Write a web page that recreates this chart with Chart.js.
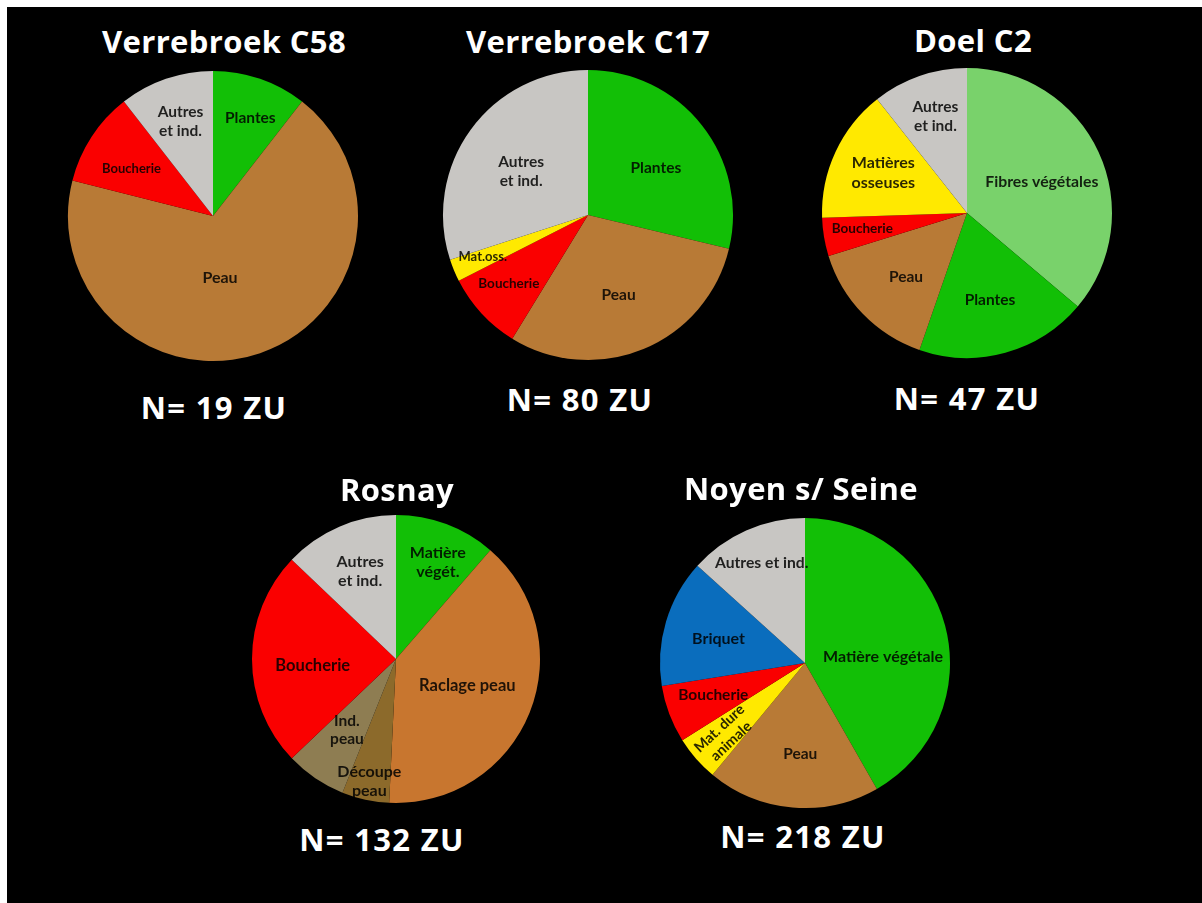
<!DOCTYPE html>
<html>
<head>
<meta charset="utf-8">
<script src="https://cdn.jsdelivr.net/npm/chart.js@4.4.1/dist/chart.umd.min.js"></script>
<style>
  html, body { margin: 0; padding: 0; background: #fff; }
  body { width: 1202px; height: 903px; position: relative; overflow: hidden; font-family: Lato, 'Open Sans', sans-serif; }
  #board { position: absolute; left: 7px; top: 7px; right: 0; bottom: 0; background: #000; }
  .pie { position: absolute; width: 300px; height: 300px; }
  .txt { position: absolute; width: 400px; text-align: center; color: #fff; font-family: 'Open Sans', sans-serif; font-weight: 700; font-size: 31px; line-height: 31px; white-space: nowrap; }
  .title { letter-spacing: 0.4px; }
  .total { letter-spacing: 1.3px; }
</style>
</head>
<body>
<div id="board"></div>

<script>
// ZU counts per site, clockwise from 12 o'clock
const c58Labels = ['Plantes', 'Peau', 'Boucherie', 'Autres\net ind.'];
const c58Counts = [2, 13, 2, 2];

const c17Labels = ['Plantes', 'Peau', 'Boucherie', 'Mat.oss.', 'Autres\net ind.'];
const c17Counts = [23, 24, 7, 2, 24];

const doelLabels = ['Fibres végétales', 'Plantes', 'Peau', 'Boucherie', 'Matières\nosseuses', 'Autres\net ind.'];
const doelCounts = [17, 9, 7, 2, 7, 5];

const rosnayLabels = ['Matière\nvégét.', 'Raclage peau', 'Découpe\npeau', 'Ind.\npeau', 'Boucherie', 'Autres\net ind.'];
const rosnayCounts = [15, 52, 7, 9, 32, 17];

const noyenLabels = ['Matière végétale', 'Peau', 'Mat. dure\nanimale', 'Boucherie', 'Briquet', 'Autres et ind.'];
const noyenCounts = [91, 42, 11, 14, 31, 29];

const siteTitles = ['Verrebroek C58', 'Verrebroek C17', 'Doel C2', 'Rosnay', 'Noyen s/ Seine'];
const siteTotals = ['N= 19 ZU', 'N= 80 ZU', 'N= 47 ZU', 'N= 132 ZU', 'N= 218 ZU'];

// slice colours
const GREEN = '#12BF06', BROWN = '#B87A36', RED = '#FA0000', GREY = '#C8C6C3',
      YELLOW = '#FFE900', LIGHTGREEN = '#79D26B', BLUE = '#0A6DBD';
const c58Colors = [GREEN, BROWN, RED, GREY];
const c17Colors = [GREEN, BROWN, RED, YELLOW, GREY];
const doelColors = [LIGHTGREEN, GREEN, BROWN, RED, YELLOW, GREY];
const rosnayColors = [GREEN, '#C8762F', '#8C6A2B', '#8E7D52', RED, GREY];
const noyenColors = [GREEN, BROWN, YELLOW, RED, BLUE, GREY];

// label placement: [radius fraction, angle shift (deg), font px, rotation (deg)]
const c58Place = [[0.72, 2, 15.5], [0.43, 12.5, 16], [0.65, -3, 13], [0.69, 0, 15.5]];
const c17Place = [[0.57, 3.5, 15.5], [0.59, 1.5, 15.5], [0.72, 2, 13.5], [0.78, 1, 13], [0.55, -3, 15.5]];
const doelPlace = [[0.56, 2, 15.8], [0.62, 0.5, 15.5], [0.61, -2.4, 15.5], [0.73, 1, 13.5], [0.64, 0.7, 16], [0.70, 1, 15.5]];
const rosnayPlace = [[0.73, 3, 16], [0.53, -1, 16.5], [0.87, 0, 16], [0.60, 0.5, 15.5], [0.58, -4.6, 16.5], [0.66, 1, 16]];
const noyenPlace = [[0.54, 10.3, 16], [0.63, -2, 15.5], [0.74, -0.7, 14.5, -43], [0.67, 1.4, 15.5], [0.62, -0.6, 16], [0.75, 0.5, 15.7]];

// pie centre and radius on the board
const pieBoxes = [
  { cx: 213, cy: 216, r: 145 },
  { cx: 588, cy: 215, r: 145 },
  { cx: 967, cy: 213, r: 145 },
  { cx: 396, cy: 659, r: 144 },
  { cx: 805, cy: 663, r: 145 }
];
// title / total text centres
const titlePos = [[224, 42], [588, 42], [973, 41], [397, 490], [801, 489]];
const totalPos = [[214, 408], [580, 400], [967, 399], [382, 840], [803, 837]];

const sliceLabels = {
  id: 'sliceLabels',
  afterDatasetsDraw(chart, args, opts) {
    const ctx = chart.ctx;
    const arcs = chart.getDatasetMeta(0).data;
    arcs.forEach((arc, i) => {
      const p = arc.getProps(['x', 'y', 'startAngle', 'endAngle', 'outerRadius'], true);
      const place = opts.place[i];
      const a = (p.startAngle + p.endAngle) / 2 + place[1] * Math.PI / 180;
      const rr = p.outerRadius * place[0];
      const x = p.x + Math.cos(a) * rr;
      const y = p.y + Math.sin(a) * rr;
      const lines = chart.data.labels[i].split('\n');
      const size = place[2];
      ctx.save();
      ctx.translate(x, y);
      if (place[3]) ctx.rotate(place[3] * Math.PI / 180);
      ctx.font = '700 ' + size + 'px Lato, "Open Sans", sans-serif';
      ctx.fillStyle = 'rgba(0,0,0,0.84)';
      ctx.textAlign = 'center';
      ctx.textBaseline = 'middle';
      const lh = size * 1.2;
      lines.forEach((ln, k) => {
        ctx.fillText(ln, 0, (k - (lines.length - 1) / 2) * lh);
      });
      ctx.restore();
    });
  }
};

const board = document.getElementById('board');

function addText(str, pos, cls) {
  const d = document.createElement('div');
  d.className = 'txt ' + cls;
  d.textContent = str;
  // board is offset by 7px
  d.style.left = (pos[0] - 200 - 7) + 'px';
  d.style.top = (pos[1] - 16 - 7) + 'px';
  board.appendChild(d);
}

function renderPie(idx, labels, counts, colors, place) {
  const box = pieBoxes[idx];
  const wrap = document.createElement('div');
  wrap.className = 'pie';
  wrap.style.left = (box.cx - 150 - 7) + 'px';
  wrap.style.top = (box.cy - 150 - 7) + 'px';
  const cv = document.createElement('canvas');
  wrap.appendChild(cv);
  board.appendChild(wrap);

  new Chart(cv, {
    type: 'pie',
    data: {
      labels,
      datasets: [{ data: counts, backgroundColor: colors, borderWidth: 0 }]
    },
    options: {
      responsive: true,
      maintainAspectRatio: false,
      animation: false,
      layout: { padding: 150 - box.r },
      plugins: {
        legend: { display: false },
        tooltip: { enabled: false },
        sliceLabels: { place }
      }
    },
    plugins: [sliceLabels]
  });

  addText(siteTitles[idx], titlePos[idx], 'title');
  addText(siteTotals[idx], totalPos[idx], 'total');
}

renderPie(0, c58Labels, c58Counts, c58Colors, c58Place);
renderPie(1, c17Labels, c17Counts, c17Colors, c17Place);
renderPie(2, doelLabels, doelCounts, doelColors, doelPlace);
renderPie(3, rosnayLabels, rosnayCounts, rosnayColors, rosnayPlace);
renderPie(4, noyenLabels, noyenCounts, noyenColors, noyenPlace);
</script>
</body>
</html>
